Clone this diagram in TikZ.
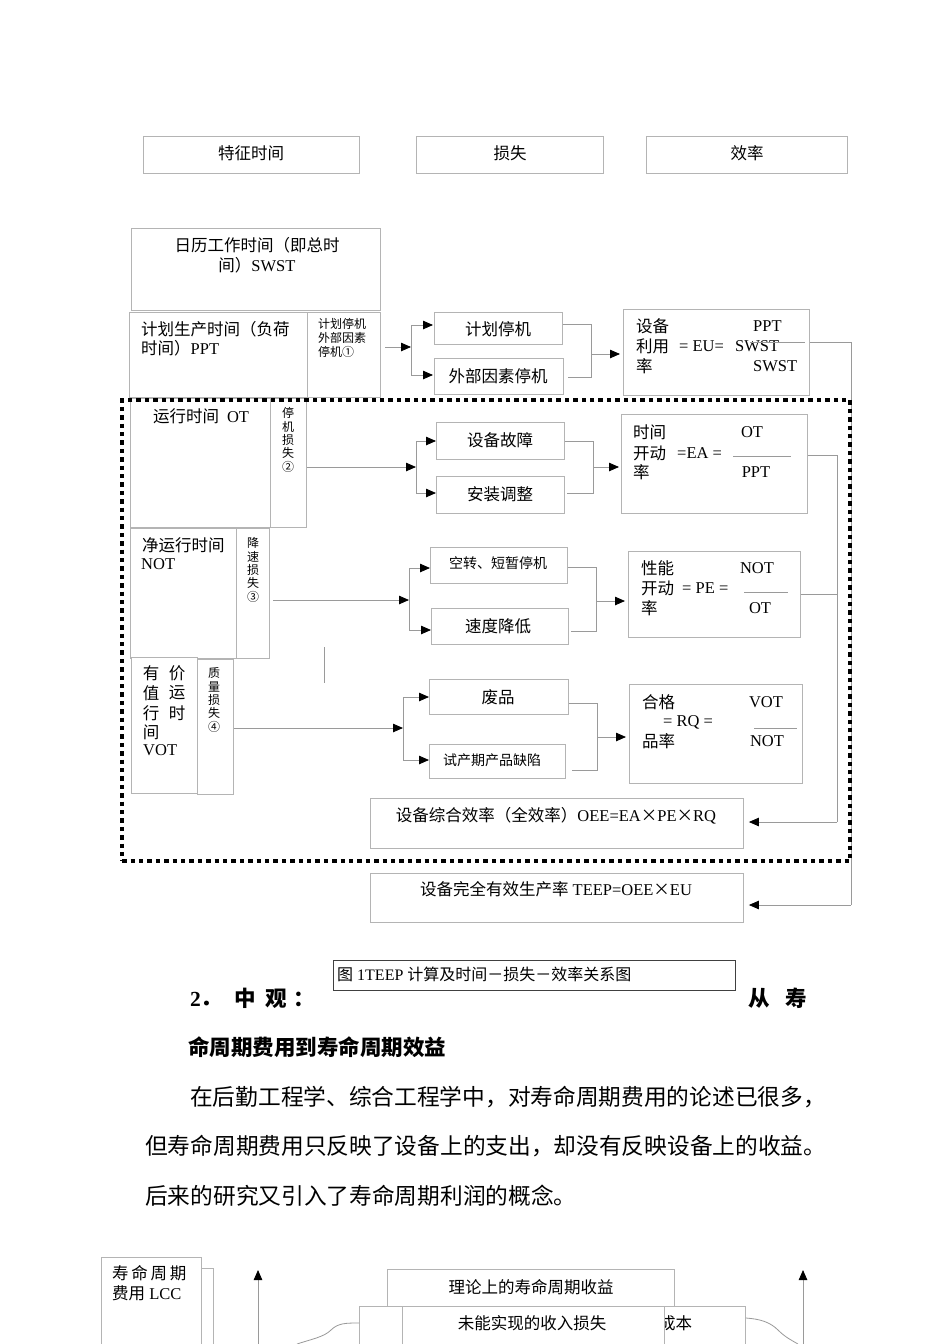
\documentclass[tikz,border=0pt]{standalone}
\usepackage{fontspec}
\setmainfont{Liberation Serif}
\newfontfamily\cjk{Noto Sans CJK SC}
\usetikzlibrary{arrows.meta}
\XeTeXinterchartokenstate=1
\newXeTeXintercharclass\cjkclass
\newcount\cjkcc
\newcommand\cjkrange[2]{\cjkcc=#1\relax\loop\XeTeXcharclass\cjkcc=\cjkclass\relax\ifnum\cjkcc<#2\relax\advance\cjkcc by 1\relax\repeat}
\cjkrange{"2460}{"24FF}
\cjkrange{"3000}{"303F}
\cjkrange{"4E00}{"9FFF}
\cjkrange{"FF00}{"FFEF}
\XeTeXcharclass"00D7=\cjkclass
\XeTeXinterchartoks 0 \cjkclass = {\begingroup\cjk}
\XeTeXinterchartoks 4095 \cjkclass = {\begingroup\cjk}
\XeTeXinterchartoks \cjkclass 0 = {\endgroup}
\XeTeXinterchartoks \cjkclass 4095 = {\endgroup}
\definecolor{boxgray}{HTML}{B4B4B4}
\definecolor{linegray}{HTML}{9A9A9A}
\newcommand\fA{\fontsize{16.5}{20}\selectfont}
\newcommand\fS{\fontsize{14}{17}\selectfont}
\newcommand\fV{\fontsize{12}{13.3}\selectfont}
\newcommand\fSm{\fontsize{12}{14}\selectfont}
\newcommand\fC{\fontsize{16}{19}\selectfont}
\newcommand\fP{\fontsize{22.7}{27}\selectfont}
\newcommand\fH{\fontsize{21.5}{26}\selectfont\bfseries}
\newcommand\bxn[6][]{\node[bx,anchor=north west,inner sep=0pt,minimum width={#5-#3},minimum height={#6-#4},#1] (#2) at (#3,#4) {};}
\begin{document}
\begin{tikzpicture}[x=1pt,y=-1pt,
  bx/.style={draw=boxgray,line width=0.9pt,fill=white},
  ln/.style={draw=linegray,line width=0.8pt},
  arr/.style={ln,-{Triangle[length=10pt,width=8.5pt,color=black,fill=black]}},
  tx/.style={inner sep=0pt,font=\fA},
  ts/.style={inner sep=0pt,font=\fS},
  tv/.style={inner sep=0pt,font=\fV,align=center},
  tp/.style={inner sep=0pt,font=\fP,anchor=west},
  th/.style={inner sep=0pt,font=\fH,anchor=west},
  frame/.style={draw=black,line width=4.4pt,dash pattern=on 4.4pt off 4pt,fill=none}]
\useasboundingbox (0,0) rectangle (950,1344);
\fill[white] (0,0) rectangle (950,1344);

% header boxes
\bxn{hb1}{143}{136}{359}{173}
\bxn{hb2}{416}{136}{603}{173}
\bxn{hb3}{646}{136}{847}{173}
\node[tx] (h1) at (251,153) {特征时间};
\node[tx] (h2) at (510,153) {损失};
\node[tx] (h3) at (747,153) {效率};

% time column
\bxn{swst}{131}{228}{380}{310}
\node[tx,align=center] (tswst) at (257,255) {日历工作时间（即总时\\间）SWST};
\bxn{ppt}{129}{312}{307}{397}
\node[tx,anchor=west] (tppt1) at (141,329) {计划生产时间（负荷};
\node[tx,anchor=west] (tppt2) at (141,348) {时间）PPT};
\bxn{loss1}{307}{312}{380}{397}
\node[inner sep=0pt,font=\fSm,align=left,anchor=north west] (tl1) at (318,318) {计划停机\\外部因素\\停机①};

\bxn{ot}{130}{398}{270}{527}
\node[tx] (tot) at (201,416) {运行时间\hspace{8pt}OT};
\bxn{loss2}{270}{398}{306}{527}
\node[tv] (tl2) at (288,440) {停\\机\\损\\失\\②};

\bxn{not}{130}{528}{236}{658}
\node[tx,anchor=west] (tnot1) at (142,545) {净运行时间};
\node[tx,anchor=west] (tnot2) at (141,564) {NOT};
\bxn{loss3}{236}{528}{269}{658}
\node[tv] (tl3) at (253,570) {降\\速\\损\\失\\③};

\bxn{vot}{131}{657}{197}{793}
\node[tx] (tv1) at (151,673) {有};
\node[tx] (tv2) at (177,673) {价};
\node[tx] (tv3) at (151,693) {值};
\node[tx] (tv4) at (177,693) {运};
\node[tx] (tv5) at (151,713) {行};
\node[tx] (tv6) at (177,713) {时};
\node[tx] (tv7) at (151,732) {间};
\node[tx,anchor=west] (tv8) at (143,750) {VOT};
\bxn{loss4}{197}{659}{233}{794}
\node[tv] (tl4) at (214,700) {质\\量\\损\\失\\④};

\coordinate (sa) at (324,647); \coordinate (sb) at (324,683);
\draw[ln] (sa) -- (sb);

% loss boxes
\bxn{plan}{434}{312}{562}{344}
\node[tx] (tplan) at (498,329) {计划停机};
\bxn{ext}{434}{358}{563}{394}
\node[tx] (text) at (498,376) {外部因素停机};
\bxn{fault}{436}{422}{564}{459}
\node[tx] (tfault) at (500,440) {设备故障};
\bxn{adjust}{436}{476}{564}{513}
\node[tx] (tadjust) at (500,494) {安装调整};
\bxn{idle}{430}{547}{567}{583}
\node[ts] (tidle) at (498,563) {空转、短暂停机};
\bxn{speed}{431}{608}{568}{644}
\node[tx] (tspeed) at (498,626) {速度降低};
\bxn{scrap}{429}{679}{568}{714}
\node[tx] (tscrap) at (498,697) {废品};
\bxn{trial}{429}{744}{565}{778}
\node[ts] (ttrial) at (492,760) {试产期产品缺陷};

% efficiency boxes
\bxn{eu}{623}{309}{809}{395}
\node[tx,anchor=west] (eu1) at (636,326) {设备};
\node[tx,anchor=west] (eu2) at (636,346) {利用};
\node[tx,anchor=west] (eu3) at (679,346) {= EU=};
\node[tx,anchor=west] (eu4) at (735,346) {SWST};
\node[tx,anchor=west] (eu5) at (636,366) {率};
\node[tx,anchor=west] (eu6) at (753,326) {PPT};
\node[tx,anchor=west] (eu7) at (753,366) {SWST};
\coordinate (eufa) at (750,342); \coordinate (eufb) at (805,342);
\draw[ln] (eufa) -- (eufb);

\bxn{ea}{621}{414}{807}{513}
\node[tx,anchor=west] (ea1) at (633,432) {时间};
\node[tx,anchor=west] (ea2) at (633,453) {开动};
\node[tx,anchor=west] (ea3) at (677,453) {=EA =};
\node[tx,anchor=west] (ea4) at (633,472) {率};
\node[tx] (ea5) at (752,432) {OT};
\node[tx] (ea6) at (756,472) {PPT};
\coordinate (eafa) at (733,456); \coordinate (eafb) at (791,456);
\draw[ln] (eafa) -- (eafb);

\bxn{pe}{628}{551}{800}{637}
\node[tx,anchor=west] (pe1) at (641,568) {性能};
\node[tx,anchor=west] (pe2) at (641,588) {开动};
\node[tx,anchor=west] (pe3) at (682,588) {= PE =};
\node[tx,anchor=west] (pe4) at (641,608) {率};
\node[tx] (pe5) at (757,568) {NOT};
\node[tx] (pe6) at (760,608) {OT};
\coordinate (pefa) at (744,592); \coordinate (pefb) at (788,592);
\draw[ln] (pefa) -- (pefb);

\bxn{rq}{629}{684}{802}{783}
\node[tx,anchor=west] (rq1) at (642,702) {合格};
\node[tx,anchor=west] (rq2) at (663,722) {= RQ =};
\node[tx,anchor=west] (rq3) at (642,741) {品率};
\node[tx] (rq4) at (766,702) {VOT};
\node[tx] (rq5) at (767,741) {NOT};
\coordinate (rqfa) at (754,728); \coordinate (rqfb) at (797,728);
\draw[ln] (rqfa) -- (rqfb);

\bxn{oee}{370}{798}{743}{848}
\node[tx] (toee) at (556,816) {设备综合效率（全效率）OEE=EA×PE×RQ};
\bxn{teep}{370}{873}{743}{922}
\node[tx] (tteep) at (556,889) {设备完全有效生产率 TEEP=OEE×EU};

% group 1 connectors
\coordinate (g1s) at (385,347); \coordinate (g1b) at (411,347);
\coordinate (g1t) at (411,325); \coordinate (g1d) at (411,375);
\draw[arr] (g1s) -- (g1b);
\draw[ln] (g1t) -- (g1d);
\draw[arr] (g1t) -- ([xshift=-1pt]plan.west |- g1t);
\draw[arr] (g1d) -- ([xshift=-1pt]ext.west |- g1d);
\coordinate (m1t) at (591,324); \coordinate (m1d) at (591,377); \coordinate (m1c) at (591,354);
\draw[ln] (plan.east |- m1t) -- (m1t) -- (m1d) -- ([xshift=4pt]ext.east |- m1d);
\draw[arr] (m1c) -- ([xshift=-3pt]eu.west |- m1c);
\coordinate (eur) at (851,342); \coordinate (teepin) at (851,905);
\draw[ln] (eu.east |- eur) -- (eur) -- (teepin);
\draw[arr] (teepin) -- ([xshift=5pt]teep.east |- teepin);

% group 2 connectors
\coordinate (g2s) at (307,467); \coordinate (g2b) at (416,467);
\coordinate (g2t) at (416,441); \coordinate (g2d) at (416,493);
\draw[arr] (g2s) -- (g2b);
\draw[ln] (g2t) -- (g2d);
\draw[arr] (g2t) -- (fault.west |- g2t);
\draw[arr] (g2d) -- (adjust.west |- g2d);
\coordinate (m2t) at (593,441); \coordinate (m2d) at (593,493); \coordinate (m2c) at (593,467);
\draw[ln] (fault.east |- m2t) -- (m2t) -- (m2d) -- ([xshift=2pt]adjust.east |- m2d);
\draw[arr] (m2c) -- ([xshift=-2pt]ea.west |- m2c);
\coordinate (ear) at (837,455); \coordinate (oeein) at (837,822);
\draw[ln] (ea.east |- ear) -- (ear) -- (oeein);
\draw[arr] (oeein) -- ([xshift=5pt]oee.east |- oeein);

% group 3 connectors
\coordinate (g3s) at (273,600); \coordinate (g3b) at (409,600);
\coordinate (g3t) at (409,568); \coordinate (g3d) at (409,630);
\draw[arr] (g3s) -- (g3b);
\draw[ln] (g3t) -- (g3d);
\draw[arr] (g3t) -- (idle.west |- g3t);
\draw[arr] (g3d) -- (speed.west |- g3d);
\coordinate (m3t) at (596,567); \coordinate (m3d) at (596,631); \coordinate (m3c) at (596,601);
\draw[ln] (idle.east |- m3t) -- (m3t) -- (m3d) -- ([xshift=2pt]speed.east |- m3d);
\draw[arr] (m3c) -- ([xshift=-3pt]pe.west |- m3c);
\coordinate (per) at (837,594);
\draw[ln] (pe.east |- per) -- (per);

% group 4 connectors
\coordinate (g4s) at (234,728); \coordinate (g4b) at (403,728);
\coordinate (g4t) at (403,697); \coordinate (g4d) at (403,760);
\draw[arr] (g4s) -- (g4b);
\draw[ln] (g4t) -- (g4d);
\draw[arr] (g4t) -- (scrap.west |- g4t);
\draw[arr] (g4d) -- (trial.west |- g4d);
\coordinate (m4t) at (597,703); \coordinate (m4d) at (597,770); \coordinate (m4c) at (597,737);
\draw[ln] (scrap.east |- m4t) -- (m4t) -- (m4d) -- ([xshift=6pt]trial.east |- m4d);
\draw[arr] (m4c) -- ([xshift=-3pt]rq.west |- m4c);

% dotted OEE frame
\bxn[frame]{oeeframe}{120}{398}{848}{859}

% caption and body text
\bxn[draw=black!75,line width=0.8pt]{capbox}{333}{960}{735}{990}
\node[inner sep=0pt,font=\fC,anchor=west] (cap) at (337,974) {图 1TEEP 计算及时间－损失－效率关系图};
\node[th] (hd1) at (190,998) {2．\hspace{12pt}中\hspace{10pt}观\hspace{6pt}：};
\node[th] (hd2) at (748,998) {从\hspace{16pt}寿};
\node[th] (hd3) at (188,1047) {命周期费用到寿命周期效益};
\node[tp] (p1) at (190,1097) {在后勤工程学、综合工程学中，对寿命周期费用的论述已很多，};
\node[tp] (p2) at (145,1146) {但寿命周期费用只反映了设备上的支出，却没有反映设备上的收益。};
\node[tp] (p3) at (145,1196) {后来的研究又引入了寿命周期利润的概念。};

% bottom partial figure
\bxn{lccback}{160}{1268}{213}{1352}
\bxn{lcc}{101}{1257}{201}{1352}
\node[tx,anchor=west] (lcc1) at (112,1273) {寿\,命\,周\,期};
\node[tx,anchor=west] (lcc2) at (112,1293) {费用 LCC};
\coordinate (ua1s) at (258,1344); \coordinate (ua1e) at (258,1270);
\draw[arr] (ua1s) -- (ua1e);
\coordinate (ua2s) at (803,1344); \coordinate (ua2e) at (803,1270);
\draw[arr] (ua2s) -- (ua2e);
\bxn{theory}{387}{1269}{674}{1306}
\node[tx] (ttheory) at (531,1287) {理论上的寿命周期收益};
\bxn{cost}{359}{1306}{745}{1352}
\node[tx,anchor=west] (tcost) at (659,1323) {成本};
\bxn{lost}{402}{1306}{664}{1352}
\node[tx] (tlost) at (532,1323) {未能实现的收入损失};
\coordinate (wl) at (297,1344);
\draw[ln] (wl) .. controls (312,1339) and (324,1337) .. (331,1330) .. controls (338,1323) and (346,1323) .. (cost.west |- 0,1323);
\coordinate (wr) at (798,1344);
\draw[ln] (cost.east |- 0,1318) .. controls (760,1319) and (770,1322) .. (778,1330) .. controls (785,1337) and (791,1340) .. (wr);
\end{tikzpicture}
\end{document}
